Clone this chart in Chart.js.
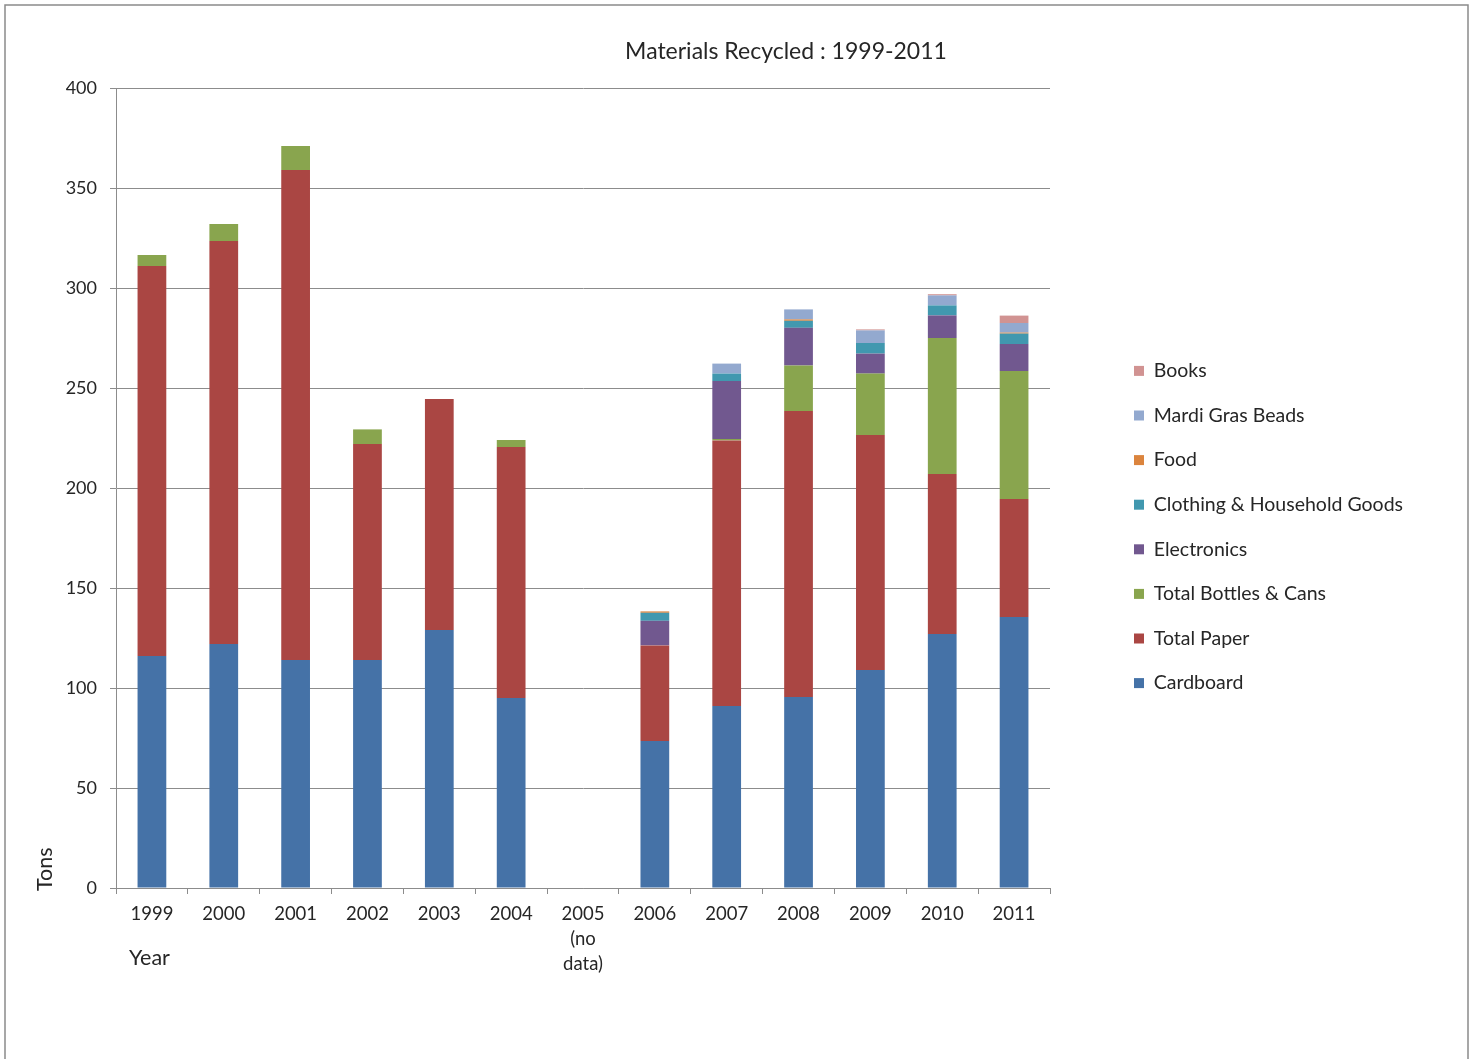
<!DOCTYPE html>
<html>
<head>
<meta charset="utf-8">
<title>Materials Recycled : 1999-2011</title>
<script src="https://cdn.jsdelivr.net/npm/chart.js@4.4.1/dist/chart.umd.min.js"></script>
<style>
    body { margin: 0; background: #fff; }
    #wrap { position: relative; width: 1473px; height: 1059px; }
</style>
</head>
<body>
<div id="wrap"><canvas id="recycleChart"></canvas></div>
<script>
// Tons recycled per year
const years = ['1999', '2000', '2001', '2002', '2003', '2004', ['2005', '(no', 'data)'], '2006', '2007', '2008', '2009', '2010', '2011'];

const cardboard   = [116, 122, 114, 114, 129, 95, null, 73.5, 91, 95.5, 109, 127, 135.5];
const totalPaper  = [195, 201.5, 245, 108, 115.5, 125.5, null, 47.8, 132.8, 143, 117.5, 80, 59];
const bottlesCans = [5.5, 8.5, 12, 7.3, 0, 3.5, null, 0, 0.7, 22.8, 30.7, 68, 64];
const electronics = [0, 0, 0, 0, 0, 0, null, 12.3, 29, 18.8, 10, 11.3, 13.5];
const clothing    = [0, 0, 0, 0, 0, 0, null, 4, 3.7, 3.5, 5.3, 5, 5.2];
const food        = [0, 0, 0, 0, 0, 0, null, 0.7, 0, 0.7, 0, 0, 0.5];
const mardiGras   = [0, 0, 0, 0, 0, 0, null, 0, 5, 5, 6.3, 5, 4.8];
const books       = [0, 0, 0, 0, 0, 0, null, 0, 0, 0, 0.5, 0.6, 3.7];

const yTicks = [0, 50, 100, 150, 200, 250, 300, 350, 400];

const FONT = 'Lato, "Open Sans", sans-serif';
const TEXT = '#262626';
const GRID = '#8c8c8c';

const LEGEND_SIZE = 19.5;
const LEGEND_PAD = 44.6 - LEGEND_SIZE;
const LEGEND_LEFT = 1134 - LEGEND_PAD;   // where the legend box should start

// extra text that sits outside the normal chart boxes
const framePlugin = {
    id: 'frame',
    afterDraw(chart) {
        const ctx = chart.ctx;
        ctx.save();
        ctx.strokeStyle = '#8a8a8a';
        ctx.lineWidth = 1.5;
        ctx.strokeRect(5, 5, 1463, 1100);

        ctx.fillStyle = TEXT;
        ctx.font = '23px ' + FONT;
        ctx.textAlign = 'center';
        ctx.textBaseline = 'middle';
        ctx.fillText('Materials Recycled : 1999-2011', 786, 52);

        ctx.font = '21.5px ' + FONT;
        ctx.textAlign = 'left';
        ctx.fillText('Year', 129, 958);

        ctx.translate(45, 891);
        ctx.rotate(-Math.PI / 2);
        ctx.fillText('Tons', 0, 0);
        ctx.restore();
    }
};

function makeSet(label, data, color) {
    return { label: label, data: data, backgroundColor: color, borderWidth: 0 };
}

// legend width follows the longest label, so work out the right padding from it
function rightPadding(labels) {
    const m = document.createElement('canvas').getContext('2d');
    m.font = LEGEND_SIZE + 'px ' + FONT;
    const widest = Math.max(...labels.map(t => m.measureText(t).width));
    const legendWidth = LEGEND_PAD + 10 + LEGEND_SIZE / 2 + widest + 10;
    return 1473 - (LEGEND_LEFT + legendWidth);
}

document.addEventListener('DOMContentLoaded', function() {
    const ctx = document.getElementById('recycleChart').getContext('2d');

    const datasets = [
        makeSet('Cardboard', cardboard, '#4572A7'),
        makeSet('Total Paper', totalPaper, '#AA4643'),
        makeSet('Total Bottles & Cans', bottlesCans, '#89A54E'),
        makeSet('Electronics', electronics, '#71588F'),
        makeSet('Clothing & Household Goods', clothing, '#4198AF'),
        makeSet('Food', food, '#DB843D'),
        makeSet('Mardi Gras Beads', mardiGras, '#93A9CF'),
        makeSet('Books', books, '#D19392')
    ];

    new Chart(ctx, {
        type: 'bar',
        data: { labels: years, datasets: datasets },
        options: {
            responsive: true,
            maintainAspectRatio: false,
            animation: false,
            layout: { padding: { top: 74, left: 0, right: rightPadding(datasets.map(d => d.label)), bottom: 79 } },
            datasets: { bar: { categoryPercentage: 1, barPercentage: 0.4 } },
            plugins: {
                tooltip: { enabled: false },
                legend: {
                    position: 'right',
                    reverse: true,
                    maxWidth: 500,
                    labels: {
                        boxWidth: 10,
                        boxHeight: 10,
                        padding: LEGEND_PAD,
                        color: TEXT,
                        font: { family: FONT, size: LEGEND_SIZE }
                    }
                }
            },
            scales: {
                x: {
                    stacked: true,
                    afterFit: s => { s.height = 92; },
                    grid: { drawOnChartArea: false, offset: true, tickLength: 6, color: GRID },
                    border: { color: GRID },
                    ticks: {
                        autoSkip: false,
                        maxRotation: 0,
                        padding: 7,
                        color: TEXT,
                        font: { family: FONT, size: 18.5, lineHeight: 1.36 }
                    }
                },
                y: {
                    stacked: true,
                    min: 0,
                    max: 400,
                    afterFit: s => { s.width = 116; },
                    afterBuildTicks: s => { s.ticks = yTicks.map(v => ({ value: v })); },
                    grid: { color: GRID, tickLength: 6 },
                    border: { color: GRID },
                    ticks: { padding: 13, color: TEXT, font: { family: FONT, size: 18 } }
                },
                // empty spacers: one above the plot, one between plot and legend
                topGap: {
                    type: 'linear',
                    axis: 'x',
                    position: 'top',
                    afterFit: s => { s.height = 14; },
                    grid: { display: false },
                    border: { display: false },
                    ticks: { display: false }
                },
                rightGap: {
                    type: 'linear',
                    axis: 'y',
                    position: 'right',
                    afterFit: s => { s.width = LEGEND_LEFT - 1050; },
                    grid: { display: false },
                    border: { display: false },
                    ticks: { display: false }
                }
            }
        },
        plugins: [framePlugin]
    });
});
</script>
</body>
</html>
